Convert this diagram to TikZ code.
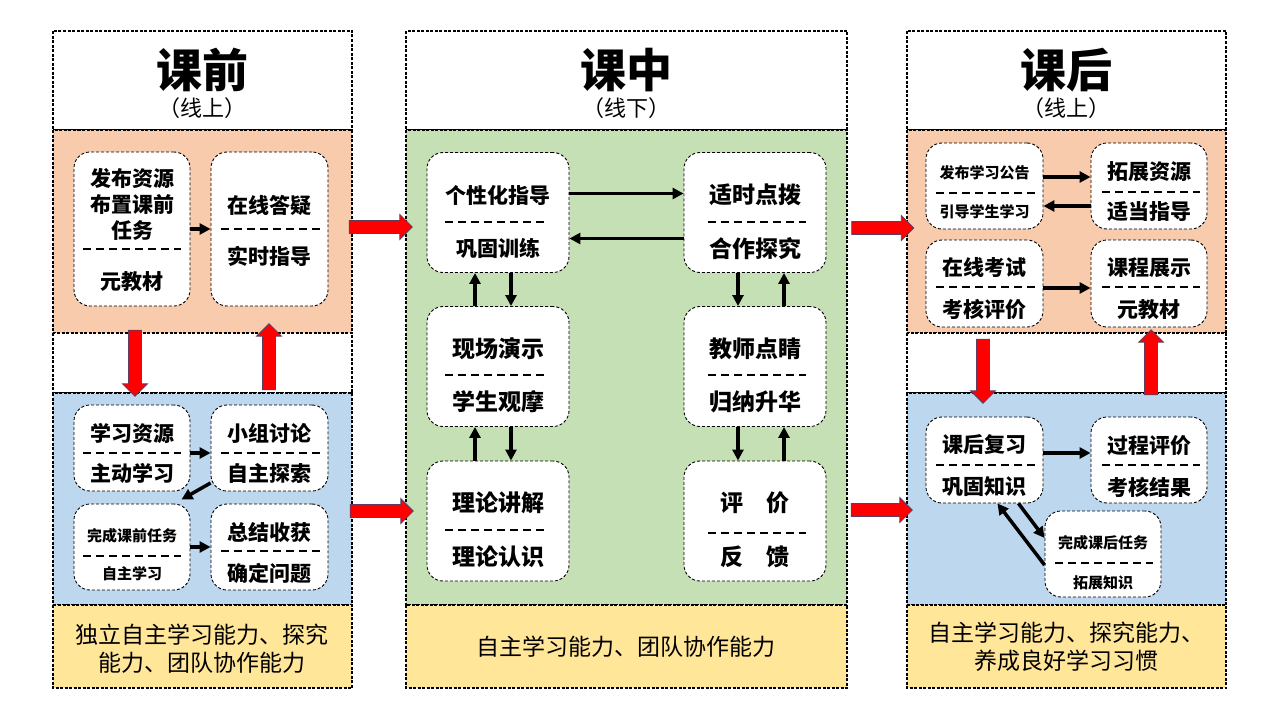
\documentclass[tikz,border=0pt]{standalone}
\usepackage{fontspec}
\setmainfont{Noto Sans CJK SC}
\usepackage{xcolor}
\usepackage{tikz}
\usetikzlibrary{shapes,arrows.meta,positioning,calc}
\definecolor{prebg}{RGB}{248,203,173}
\definecolor{selfbg}{RGB}{189,215,238}
\definecolor{classbg}{RGB}{197,224,180}
\definecolor{skillbg}{RGB}{255,230,153}
\definecolor{arrowedge}{RGB}{96,60,96}

\begin{document}
\begin{tikzpicture}[
            x=1pt,y=-1pt,
            section/.style={draw,dash pattern=on 3pt off 1.5pt,line width=1.2pt},
            card/.style={draw,fill=white,rounded corners=16pt,dash pattern=on 3pt off 2pt,line width=0.9pt,inner sep=0pt},
            divider/.style={dash pattern=on 8pt off 5pt,line width=2pt},
            flow/.style={-{Triangle[length=11pt,width=11pt]},line width=3.5pt},
            txt/.style={font=\bfseries\fontsize{21}{26}\selectfont,inner sep=0pt,align=center},
            small txt/.style={font=\bfseries\fontsize{15}{18}\selectfont,inner sep=0pt},
            mid txt/.style={font=\bfseries\fontsize{23}{28}\selectfont,inner sep=0pt},
            title txt/.style={font=\bfseries\fontsize{46}{50}\selectfont,inner sep=0pt},
            sub txt/.style={font=\fontsize{22}{24}\selectfont,inner sep=0pt},
            skill txt/.style={font=\fontsize{23}{28}\selectfont,inner sep=0pt,align=center},
            big arrow/.style={single arrow,draw=arrowedge,fill=red,line width=0.8pt,inner sep=6pt,single arrow head extend=6pt}
        ]
            \useasboundingbox (0,0) rectangle (1280,720);

            % 课前 column
            \draw[section,fill=white] (53,31) rectangle (352,130);
            \draw[section,fill=prebg] (53,130) rectangle (352,333);
            \draw[section,fill=white] (53,333) rectangle (352,393);
            \draw[section,fill=selfbg] (53,393) rectangle (352,605);
            \draw[section,fill=skillbg] (53,605) rectangle (352,688);
            % 课中 column
            \draw[section,fill=white] (406,31) rectangle (847,130);
            \draw[section,fill=classbg] (406,130) rectangle (847,605);
            \draw[section,fill=skillbg] (406,605) rectangle (847,688);
            % 课后 column
            \draw[section,fill=white] (907,31) rectangle (1226,130);
            \draw[section,fill=prebg] (907,130) rectangle (1226,333);
            \draw[section,fill=white] (907,333) rectangle (1226,393);
            \draw[section,fill=selfbg] (907,393) rectangle (1226,605);
            \draw[section,fill=skillbg] (907,605) rectangle (1226,688);

            % headers
            \node[title txt] (pre) at (202,70) {课前};
            \node[sub txt] (pre-sub) at (202,108) {（线上）};
            \node[title txt] (mid) at (626,70) {课中};
            \node[sub txt] (mid-sub) at (626,108) {（线下）};
            \node[title txt] (post) at (1066,70) {课后};
            \node[sub txt] (post-sub) at (1066,108) {（线上）};

            % 课前 cards
            \node[card,minimum width=116pt,minimum height=154pt] (pub) at (132,229) {};
            \node[card,minimum width=117pt,minimum height=154pt] (ans) at (269.5,229) {};
            \node[card,minimum width=116pt,minimum height=86pt] (res) at (132,448) {};
            \node[card,minimum width=117pt,minimum height=86pt] (grp) at (269.5,448) {};
            \node[card,minimum width=116pt,minimum height=86pt] (task) at (132,547) {};
            \node[card,minimum width=117pt,minimum height=86pt] (sum) at (269.5,547) {};

            \node[txt] (pub-a) at (132,204) {发布资源\\布置课前\\任务};
            \draw[divider] (83,249) -- (181,249);
            \node[txt] (pub-b) at (132,282) {元教材};
            \node[txt] (ans-a) at (269.5,205) {在线答疑};
            \draw[divider] (221,229) -- (321,229);
            \node[txt] (ans-b) at (269.5,256) {实时指导};

            \node[txt] (res-a) at (132,433) {学习资源};
            \draw[divider] (83,453) -- (181,453);
            \node[txt] (res-b) at (132,473) {主动学习};
            \node[txt] (grp-a) at (269.5,433) {小组讨论};
            \draw[divider] (221,453) -- (321,453);
            \node[txt] (grp-b) at (269.5,473) {自主探索};
            \node[small txt] (task-a) at (132,536) {完成课前任务};
            \draw[divider] (83,556) -- (181,556);
            \node[small txt] (task-b) at (132,574) {自主学习};
            \node[txt] (sum-a) at (269.5,533) {总结收获};
            \draw[divider] (221,551) -- (321,551);
            \node[txt] (sum-b) at (269.5,573) {确定问题};

            \draw[flow] (pub.east) -- (ans.west);
            \draw[flow] ([yshift=-5pt]res.east) -- ([yshift=-5pt]grp.west);
            \draw[flow] ([yshift=-35pt]grp.west) -- ([xshift=-9pt,yshift=4pt]task.north east);
            \draw[flow] (task.east) -- (sum.west);

            % 课中 cards
            \node[card,minimum width=142pt,minimum height=120pt] (l1) at (498,212.5) {};
            \node[card,minimum width=142pt,minimum height=120pt] (l2) at (498,366.5) {};
            \node[card,minimum width=142pt,minimum height=120pt] (l3) at (498,521) {};
            \node[card,minimum width=142pt,minimum height=120pt] (r1) at (755,212.5) {};
            \node[card,minimum width=142pt,minimum height=120pt] (r2) at (755,366.5) {};
            \node[card,minimum width=142pt,minimum height=120pt] (r3) at (755,521) {};

            \node[txt] (l1-a) at (498,195) {个性化指导};
            \draw[divider] (445,222) -- (544,222);
            \node[txt] (l1-b) at (498,248) {巩固训练};
            \node[mid txt] (l2-a) at (498,349) {现场演示};
            \draw[divider] (445,375) -- (544,375);
            \node[mid txt] (l2-b) at (498,402) {学生观摩};
            \node[mid txt] (l3-a) at (498,503) {理论讲解};
            \draw[divider] (445,530) -- (544,530);
            \node[mid txt] (l3-b) at (498,557) {理论认识};
            \node[mid txt] (r1-a) at (755,195) {适时点拨};
            \draw[divider] (708,222) -- (806,222);
            \node[mid txt] (r1-b) at (755,249) {合作探究};
            \node[mid txt] (r2-a) at (755,349) {教师点睛};
            \draw[divider] (708,375) -- (806,375);
            \node[mid txt] (r2-b) at (755,402) {归纳升华};
            \node[mid txt] (r3-a) at (755,503) {评　价};
            \draw[divider] (708,533) -- (806,533);
            \node[mid txt] (r3-b) at (755,557) {反　馈};

            \draw[flow] ([yshift=19pt]l1.east) -- ([yshift=19pt]r1.west);
            \draw[flow] ([yshift=-26pt]r1.west) -- ([yshift=-26pt]l1.east);
            \draw[flow] ([xshift=13pt]l1.south) -- ([xshift=13pt]l2.north);
            \draw[flow] ([xshift=-23pt]l2.north) -- ([xshift=-23pt]l1.south);
            \draw[flow] ([xshift=13pt]l2.south) -- ([xshift=13pt]l3.north);
            \draw[flow] ([xshift=-23pt]l3.north) -- ([xshift=-23pt]l2.south);
            \draw[flow] ([xshift=-17pt]r1.south) -- ([xshift=-17pt]r2.north);
            \draw[flow] ([xshift=29pt]r2.north) -- ([xshift=29pt]r1.south);
            \draw[flow] ([xshift=-17pt]r2.south) -- ([xshift=-17pt]r3.north);
            \draw[flow] ([xshift=29pt]r3.north) -- ([xshift=29pt]r2.south);

            % 课后 cards
            \node[card,minimum width=117pt,minimum height=86pt] (ann) at (984.5,186) {};
            \node[card,minimum width=116pt,minimum height=86pt] (ext) at (1149,186) {};
            \node[card,minimum width=117pt,minimum height=87pt] (exam) at (984.5,283.5) {};
            \node[card,minimum width=116pt,minimum height=87pt] (show) at (1149,283.5) {};
            \node[card,minimum width=117pt,minimum height=86pt] (rev) at (984.5,460) {};
            \node[card,minimum width=116pt,minimum height=86pt] (proc) at (1149,460) {};
            \node[card,minimum width=116pt,minimum height=86pt] (hw) at (1103,554) {};

            \node[small txt] (ann-a) at (984.5,173) {发布学习公告};
            \draw[divider] (936,193) -- (1035,193);
            \node[small txt] (ann-b) at (984.5,212) {引导学生学习};
            \node[txt] (ext-a) at (1149,172) {拓展资源};
            \draw[divider] (1102,192) -- (1200,192);
            \node[txt] (ext-b) at (1149,212) {适当指导};
            \node[txt] (exam-a) at (984.5,267) {在线考试};
            \draw[divider] (936,287) -- (1035,287);
            \node[txt] (exam-b) at (984.5,309) {考核评价};
            \node[txt] (show-a) at (1149,268) {课程展示};
            \draw[divider] (1102,287) -- (1200,287);
            \node[txt] (show-b) at (1149,310) {元教材};
            \node[txt] (rev-a) at (984.5,445) {课后复习};
            \draw[divider] (936,465) -- (1035,465);
            \node[txt] (rev-b) at (984.5,487) {巩固知识};
            \node[txt] (proc-a) at (1149,446) {过程评价};
            \draw[divider] (1102,465) -- (1200,465);
            \node[txt] (proc-b) at (1149,487) {考核结果};
            \node[small txt] (hw-a) at (1103,543) {完成课后任务};
            \draw[divider] (1055,563) -- (1153,563);
            \node[small txt] (hw-b) at (1103,583) {拓展知识};

            \draw[flow] ([yshift=9pt]ann.east) -- ([yshift=9pt]ext.west);
            \draw[flow] ([yshift=-20pt]ext.west) -- ([yshift=-20pt]ann.east);
            \draw[flow] ([yshift=-4.5pt]exam.east) -- ([yshift=-4.5pt]show.west);
            \draw[flow] ([yshift=7pt]rev.east) -- ([yshift=7pt]proc.west);
            \draw[flow] ([xshift=-25pt]rev.south east) -- ([yshift=16pt]hw.west);
            \draw[flow] ([yshift=-11pt]hw.west) -- ([xshift=-46pt]rev.south east);

            % skills
            \node[skill txt] (pre-skill) at (202,649) {独立自主学习能力、探究\\能力、团队协作能力};
            \node[skill txt] (mid-skill) at (626,647) {自主学习能力、团队协作能力};
            \node[skill txt] (post-skill) at (1066,647) {自主学习能力、探究能力、\\养成良好学习习惯};

            % red block arrows
            \node[big arrow,minimum height=63pt] (pre-mid-top) at (377.5,227) {};
            \node[big arrow,minimum height=63pt] (pre-mid-low) at (378.5,511) {};
            \node[big arrow,minimum height=62pt] (mid-post-top) at (879.5,228) {};
            \node[big arrow,minimum height=61pt] (mid-post-low) at (878.5,510) {};
            \node[big arrow,minimum height=66pt,rotate=-90] (pre-down) at (135,360) {};
            \node[big arrow,minimum height=66pt,rotate=90] (pre-up) at (269,360) {};
            \node[big arrow,minimum height=64pt,rotate=-90] (post-down) at (983,368) {};
            \node[big arrow,minimum height=65pt,rotate=90] (post-up) at (1151,365.5) {};
        \end{tikzpicture}
\end{document}
